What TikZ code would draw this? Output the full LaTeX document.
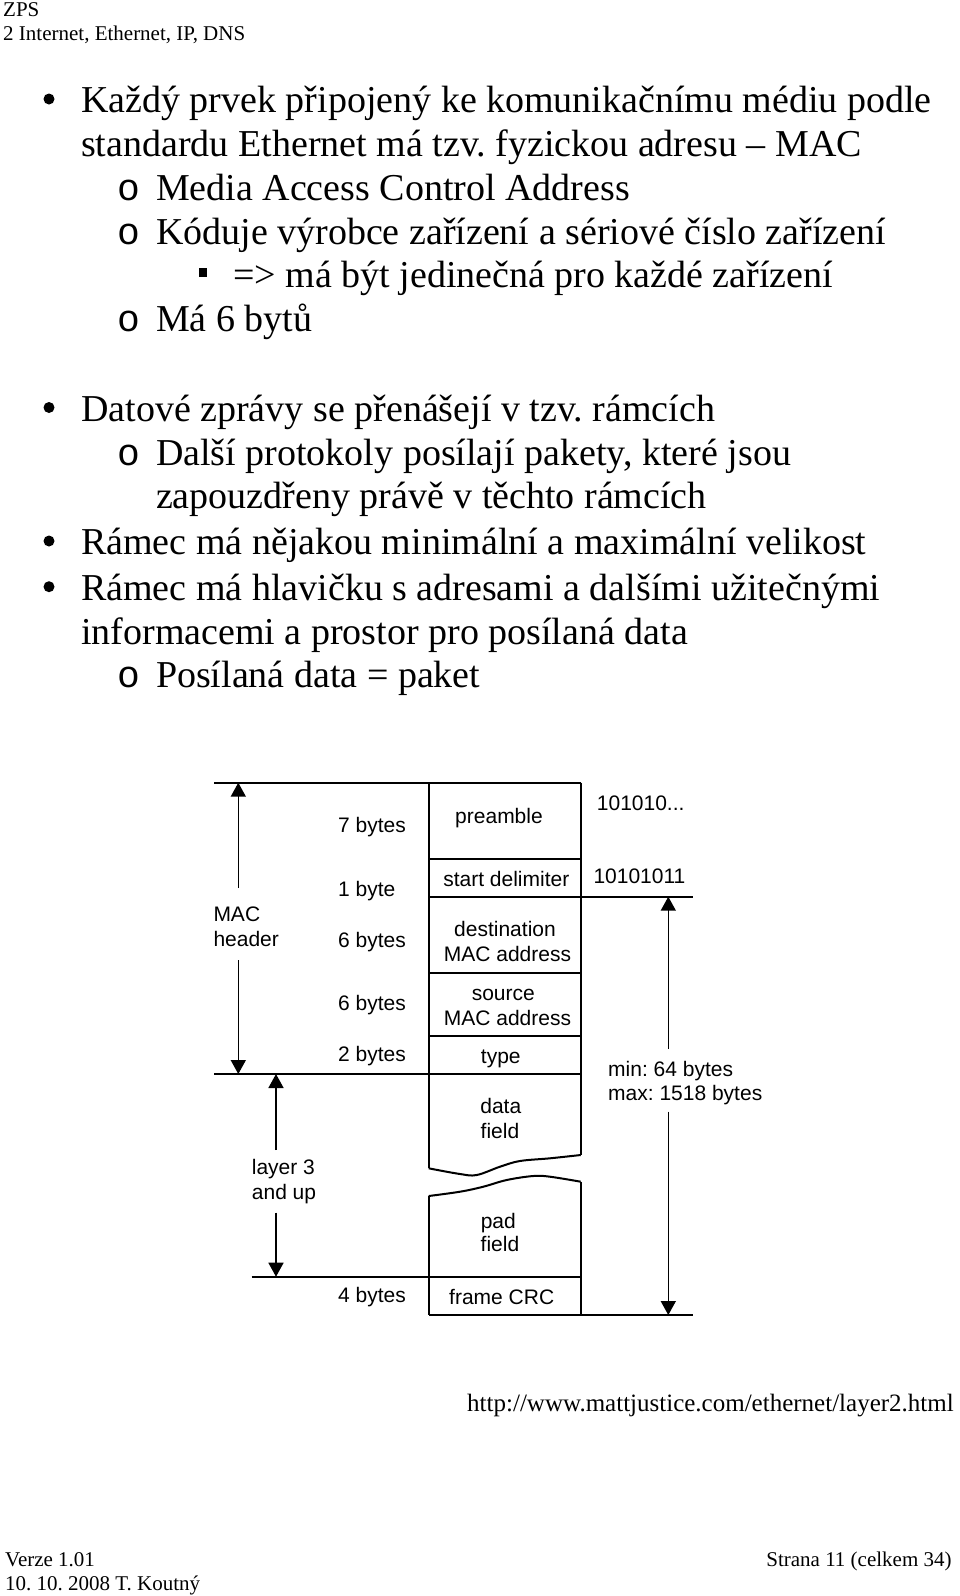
\documentclass[tikz,border=0pt]{standalone}
\usepackage{fontspec}
\setmainfont{Liberation Serif}
\newfontfamily\diagfont{Liberation Sans}
\newfontfamily\monofont{Liberation Mono}
\usetikzlibrary{arrows.meta}
\frenchspacing
\begin{document}
\begin{tikzpicture}[x=1pt,y=-1pt,
  body/.style={inner sep=0, anchor=base west, font=\fontsize{38}{44}\selectfont},
  obul/.style={inner sep=0, anchor=base, font=\monofont\fontsize{38}{44}\selectfont},
  small/.style={inner sep=0, anchor=base west, font=\fontsize{21}{24}\selectfont},
  lab/.style={inner sep=0, anchor=base west, font=\diagfont\fontsize{21}{24}\selectfont},
  clab/.style={inner sep=0, anchor=base, font=\diagfont\fontsize{21}{24}\selectfont},
  framel/.style={line width=2pt},
  dimarrow/.style={line width=1.6pt, -{Triangle[width=15pt,length=14pt]}},
]
\useasboundingbox (0,0) rectangle (960,1596);
\fill[white] (0,0) rectangle (960,1596);

% header
\node[small] (zps) at (3,16.7) {ZPS};
\node[small] (chap) at (3,40.7) {2 Internet, Ethernet, IP, DNS};

% body text
\fill (49,99) circle (5.5);
\node[body] (l1) at (81,112.7) {Každý prvek připojený ke komunikačnímu médiu podle};
\node[body] (l2) at (81,156.5) {standardu Ethernet má tzv. fyzickou adresu – MAC};
\node[obul] (o3) at (129,200.3) {o};
\node[body] (l3) at (155.8,200.3) {Media Access Control Address};
\node[obul] (o4) at (129,244.1) {o};
\node[body] (l4) at (155.8,244.1) {Kóduje výrobce zařízení a sériové číslo zařízení};
\fill (198.5,268) rectangle (207,276.5);
\node[body] (l5) at (233,287.8) {=> má být jedinečná pro každé zařízení};
\node[obul] (o6) at (129,331.6) {o};
\node[body] (l6) at (155.8,331.6) {Má 6 bytů};
\fill (49,407.5) circle (5.5);
\node[body] (l7) at (81,421.2) {Datové zprávy se přenášejí v tzv. rámcích};
\node[obul] (o8) at (129,465) {o};
\node[body] (l8) at (155.8,465) {Další protokoly posílají pakety, které jsou};
\node[body] (l9) at (155.8,508.8) {zapouzdřeny právě v těchto rámcích};
\fill (49,541) circle (5.5);
\node[body] (l10) at (81,554.6) {Rámec má nějakou minimální a maximální velikost};
\fill (49,586.7) circle (5.5);
\node[body] (l11) at (81,600.4) {Rámec má hlavičku s adresami a dalšími užitečnými};
\node[body] (l12) at (81,644.2) {informacemi a prostor pro posílaná data};
\node[obul] (o13) at (129,687.9) {o};
\node[body] (l13) at (155.8,687.9) {Posílaná data = paket};

% frame diagram
\draw[framel] (214,782.7) -- (580.7,782.7);
\draw[framel] (428.7,782.7) -- (428.7,1168.3);
\draw[framel] (580.7,782.7) -- (580.7,1155);
\draw[framel] (428.7,859) -- (580.7,859);
\draw[framel] (428.7,896.7) -- (693,896.7);
\draw[framel] (428.7,972.7) -- (580.7,972.7);
\draw[framel] (428.7,1036) -- (580.7,1036);
\draw[framel] (214,1074) -- (580.7,1074);
\draw[framel] plot[smooth,tension=0.6] coordinates {(428.7,1168.3) (460,1174) (476.7,1175) (500,1166.7) (520,1161) (550,1158.3) (580.7,1155)};
\draw[framel] plot[smooth,tension=0.6] coordinates {(428.7,1196) (460,1191.7) (483.3,1186.7) (506.7,1180) (533.3,1176) (550,1176.7) (580.7,1181.7)};
\draw[framel] (428.7,1196) -- (428.7,1315);
\draw[framel] (580.7,1181.7) -- (580.7,1315);
\draw[framel] (251.7,1276.7) -- (580.7,1276.7);
\draw[framel] (428.7,1315) -- (693,1315);

% field labels
\node[clab] (pre) at (499,823.3) {preamble};
\node[clab] (sd) at (506.3,886) {start delimiter};
\node[clab] (dst1) at (505,936.7) {destination};
\node[clab] (dst2) at (507.5,961.7) {MAC address};
\node[clab] (src1) at (503.3,1000) {source};
\node[clab] (src2) at (507.5,1025) {MAC address};
\node[clab] (typ) at (500.8,1063.3) {type};
\node[clab] (dat1) at (500.8,1113.3) {data};
\node[clab] (dat2) at (500,1138.3) {field};
\node[clab] (pad1) at (498.3,1228.3) {pad};
\node[clab] (pad2) at (500,1251.7) {field};
\node[clab] (crc) at (501.7,1304) {frame CRC};

% sizes
\node[lab] (b7) at (338,832.7) {7 bytes};
\node[lab] (b1) at (338,896) {1 byte};
\node[lab] (b6a) at (338,947.5) {6 bytes};
\node[lab] (b6b) at (338,1010) {6 bytes};
\node[lab] (b2) at (338,1061.5) {2 bytes};
\node[lab] (b4) at (338,1302.5) {4 bytes};

\node[lab] (bits1) at (596.7,810) {101010...};
\node[lab] (bits2) at (593.3,883.3) {10101011};

% MAC header dimension
\node[lab] (mac1) at (213.3,921) {MAC};
\node[lab] (mac2) at (213.3,946.7) {header};
\coordinate (macT) at (238.3,782.7);
\coordinate (macA) at (238.3,888);
\coordinate (macB) at (238.3,960);
\coordinate (macE) at (238.3,1074);
\draw[dimarrow] (macA) -- (macT);
\draw[dimarrow] (macB) -- (macE);

% layer 3 dimension
\node[lab] (ly1) at (251.7,1174) {layer 3};
\node[lab] (ly2) at (251.7,1199.3) {and up};
\coordinate (lyT) at (276,1074);
\coordinate (lyA) at (276,1150);
\coordinate (lyB) at (276,1212.7);
\coordinate (lyE) at (276,1276.7);
\draw[dimarrow] (lyA) -- (lyT);
\draw[dimarrow] (lyB) -- (lyE);

% frame size dimension
\node[lab] (mn) at (608,1076) {min: 64 bytes};
\node[lab] (mx) at (608,1100.7) {max: 1518 bytes};
\coordinate (fsT) at (668.3,896.7);
\coordinate (fsA) at (668.3,1049);
\coordinate (fsB) at (668.3,1111.7);
\coordinate (fsE) at (668.3,1315);
\draw[dimarrow] (fsA) -- (fsT);
\draw[dimarrow] (fsB) -- (fsE);

% source
\node[inner sep=0, anchor=base west, font=\fontsize{25}{28}\selectfont] (url) at (467,1411) {http://www.mattjustice.com/ethernet/layer2.html};

% footer
\node[small] (ver) at (5,1566) {Verze 1.01};
\node[small] (dat) at (5,1590) {10. 10. 2008 T. Koutný};
\node[small, anchor=base east] (pg) at (951.8,1566) {Strana 11 (celkem 34)};
\end{tikzpicture}
\end{document}
